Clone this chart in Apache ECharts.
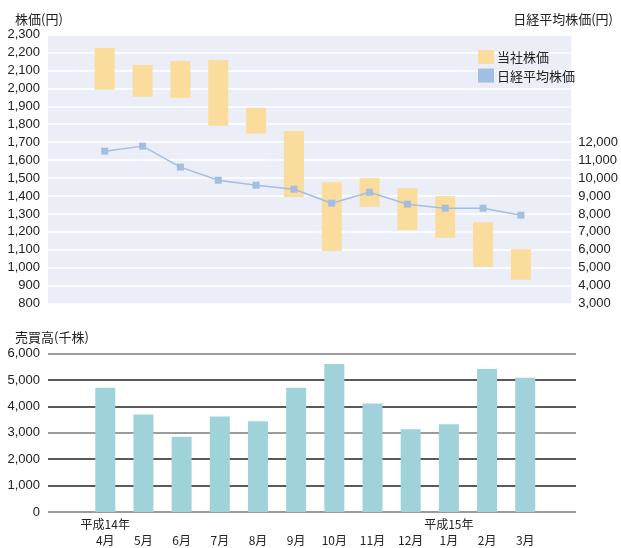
<!DOCTYPE html>
<html>
<head>
<meta charset="utf-8">
<script src="https://cdn.jsdelivr.net/npm/echarts@6/dist/echarts.min.js"></script>
<style>
  html, body { margin: 0; padding: 0; background: #fff; }
  #chart { width: 621px; height: 548px; }
</style>
</head>
<body>
<div id="chart"></div>
<script>
// Monthly stock price range, Nikkei average and trading volume (FY H14)
const months = ['4月', '5月', '6月', '7月', '8月', '9月', '10月', '11月', '12月', '1月', '2月', '3月'];
const yearLabels = ['平成14年', '', '', '', '', '', '', '', '', '平成15年', '', ''];
const priceHigh = [2225, 2130, 2152, 2158, 1892, 1762, 1477, 1500, 1444, 1399, 1254, 1104];
const priceLow  = [1992, 1953, 1947, 1791, 1747, 1395, 1094, 1340, 1211, 1167, 1005, 933];
const nikkei    = [11500, 11780, 10610, 9880, 9600, 9380, 8600, 9210, 8545, 8320, 8320, 7930];
const volume    = [4710, 3700, 2850, 3620, 3440, 4710, 5610, 4110, 3140, 3330, 5420, 5090];

const NUM_FONT = '"Liberation Sans Narrow", "Arial Narrow", "Liberation Sans", sans-serif';
const JP_FONT = '"Noto Sans CJK JP", sans-serif';
const BAR_W = 20;

// months sit in slots 1..12 of the x scale (slot 0 left empty)
const pos = months.map((m, i) => i + 1.5);
const fmt = v => v.toLocaleString('en-US');

const chart = echarts.init(document.getElementById('chart'), null, { renderer: 'canvas' });

chart.setOption({
  animation: false,
  textStyle: { fontFamily: JP_FONT },
  title: [
    { text: '株価(円)', left: 10, top: 8, textStyle: { fontSize: 13, fontWeight: 'normal', color: '#222', fontFamily: JP_FONT } },
    { text: '日経平均株価(円)', right: 3, top: 8, textStyle: { fontSize: 13, fontWeight: 'normal', color: '#222', fontFamily: JP_FONT } },
    { text: '売買高(千株)', left: 10, top: 326, textStyle: { fontSize: 13, fontWeight: 'normal', color: '#222', fontFamily: JP_FONT } }
  ],
  legend: {
    data: ['当社株価', '日経平均株価'],
    orient: 'vertical',
    left: 473,
    top: 45,
    icon: 'rect',
    itemWidth: 16,
    itemHeight: 14,
    itemGap: 4.6,
    selectedMode: false,
    textStyle: { fontSize: 13, color: '#222', fontFamily: JP_FONT, padding: [0, 0, 0, -2] }
  },
  grid: [
    { left: 48, right: 45, top: 34.5, height: 269.2, show: true, backgroundColor: '#EBEEF6', borderWidth: 0 },
    { left: 48, right: 45, top: 353.7, height: 160, show: false }
  ],
  xAxis: [
    {
      type: 'value', gridIndex: 0, min: 0, max: 13.83,
      axisLine: { show: false }, axisTick: { show: false }, axisLabel: { show: false }, splitLine: { show: false }
    },
    {
      type: 'value', gridIndex: 1, min: 0, max: 13.83,
      axisLine: { show: false }, axisTick: { show: false }, splitLine: { show: false },
      axisLabel: {
        customValues: pos,
        margin: 4,
        lineHeight: 16,
        fontSize: 12,
        color: '#222',
        fontFamily: JP_FONT,
        formatter: v => {
          const i = pos.indexOf(v);
          return i < 0 ? '' : (yearLabels[i] + '\n' + months[i]);
        }
      }
    }
  ],
  yAxis: [
    {
      type: 'value', gridIndex: 0, min: 800, max: 2300, interval: 100,
      axisLine: { show: false }, axisTick: { show: false },
      axisLabel: { formatter: fmt, fontSize: 13, color: '#222', fontFamily: NUM_FONT, margin: 8 },
      splitLine: { lineStyle: { color: '#ffffff', width: 1.5 } }
    },
    {
      type: 'value', gridIndex: 0, min: 3000, max: 18000, interval: 1000, position: 'right',
      axisLine: { show: false }, axisTick: { show: false }, splitLine: { show: false },
      axisLabel: { formatter: v => (v <= 12000 ? fmt(v) : ''), fontSize: 13, color: '#222', fontFamily: NUM_FONT, margin: 7 }
    },
    {
      type: 'value', gridIndex: 1, min: 0, max: 6000, interval: 1000,
      axisLine: { show: false }, axisTick: { show: false },
      axisLabel: { formatter: fmt, fontSize: 13, color: '#222', fontFamily: NUM_FONT, margin: 8 },
      splitLine: { lineStyle: { color: ['#7a7a7a', '#222222', '#222222'], width: 1.5 } }
    }
  ],
  series: [
    {
      // monthly low-high range of the company's share price
      name: '当社株価', type: 'custom', xAxisIndex: 0, yAxisIndex: 0,
      itemStyle: { color: '#FADD9C' },
      encode: { x: 0, y: [1, 2] },
      data: priceLow.map((v, i) => [pos[i], v, priceHigh[i]]),
      renderItem: (params, api) => {
        const lo = api.coord([api.value(0), api.value(1)]);
        const hi = api.coord([api.value(0), api.value(2)]);
        return {
          type: 'rect',
          shape: { x: lo[0] - BAR_W / 2, y: hi[1], width: BAR_W, height: lo[1] - hi[1] },
          style: { fill: '#FADD9C' }
        };
      }
    },
    {
      name: '日経平均株価', type: 'line', xAxisIndex: 0, yAxisIndex: 1,
      symbol: 'rect', symbolSize: 7,
      itemStyle: { color: '#A4BEE2' },
      lineStyle: { color: '#A4BEE2', width: 1.5 },
      z: 3,
      data: nikkei.map((v, i) => [pos[i], v])
    },
    {
      name: '売買高', type: 'bar', xAxisIndex: 1, yAxisIndex: 2,
      barWidth: BAR_W,
      itemStyle: { color: '#A0D3D9' },
      data: volume.map((v, i) => [pos[i], v])
    }
  ]
});
</script>
</body>
</html>
